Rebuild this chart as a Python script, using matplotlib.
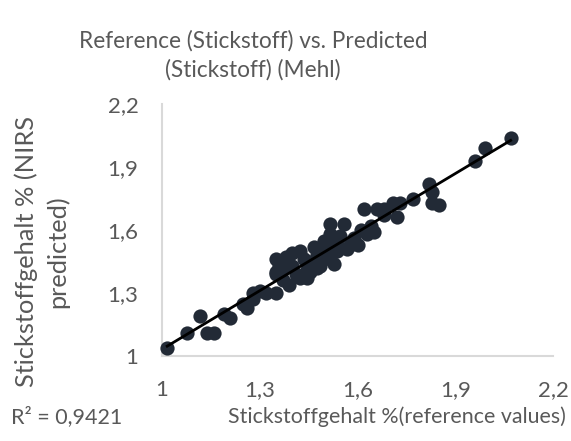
import matplotlib
matplotlib.use("Agg")
import matplotlib.pyplot as plt
from matplotlib.ticker import FuncFormatter, FixedLocator
import numpy as np

# reference N content (%) vs NIRS predicted N content (%)
reference = [
    1.016, 1.078, 1.118, 1.139, 1.159, 1.19, 1.21, 1.25, 1.26, 1.28, 1.28, 1.30,
    1.32, 1.35, 1.35, 1.36, 1.35, 1.35, 1.37, 1.38, 1.38, 1.40, 1.40, 1.41,
    1.425, 1.435, 1.445, 1.455, 1.466, 1.476, 1.486, 1.486, 1.496, 1.507, 1.517, 1.517,
    1.517, 1.527, 1.537, 1.537, 1.558, 1.568, 1.578, 1.588, 1.60, 1.61, 1.62, 1.63,
    1.64, 1.65, 1.66, 1.68, 1.68, 1.71, 1.72, 1.73, 1.77, 1.82, 1.83, 1.83,
    1.85, 1.96, 1.99, 2.07, 1.39, 1.445, 1.476, 1.496, 1.547, 1.37, 1.425, 1.455,
]
predicted = [
    1.04, 1.11, 1.19, 1.11, 1.11, 1.20, 1.18, 1.25, 1.23, 1.30, 1.27, 1.31,
    1.30, 1.30, 1.39, 1.43, 1.46, 1.40, 1.36, 1.43, 1.47, 1.49, 1.43, 1.39,
    1.37, 1.46, 1.41, 1.45, 1.52, 1.42, 1.43, 1.49, 1.46, 1.53, 1.63, 1.58,
    1.47, 1.44, 1.50, 1.55, 1.63, 1.51, 1.53, 1.56, 1.53, 1.60, 1.70, 1.58,
    1.62, 1.59, 1.70, 1.67, 1.70, 1.73, 1.66, 1.73, 1.75, 1.82, 1.78, 1.73,
    1.72, 1.93, 1.99, 2.04, 1.34, 1.37, 1.48, 1.55, 1.57, 1.42, 1.50, 1.40,
]
r2_text = "R² = 0,9421"

ticks = [1.0, 1.3, 1.6, 1.9, 2.2]
grey = "#595959"
dot = "#222a36"

plt.rcParams["font.family"] = ["Lato", "DejaVu Sans"]

fig = plt.figure(figsize=(5.71, 4.41), dpi=100)
ax = fig.add_axes([0.2837, 0.1927, 0.6848, 0.5714])

x = np.array(reference)
y = np.array(predicted)
ax.scatter(x, y, s=105, color=dot, zorder=3, linewidths=0, clip_on=False)

# linear trend line across the data range
k, d = np.polyfit(x, y, 1)
xs = np.array([x.min(), x.max()])
ax.plot(xs, k * xs + d, color="black", lw=2, zorder=4)

ax.set_xlim(1.0, 2.2)
ax.set_ylim(1.0, 2.2)
ax.xaxis.set_major_locator(FixedLocator(ticks))
ax.yaxis.set_major_locator(FixedLocator(ticks))
fmt = FuncFormatter(lambda v, p: f"{v:g}".replace(".", ","))
ax.xaxis.set_major_formatter(fmt)
ax.yaxis.set_major_formatter(fmt)
ax.tick_params(length=0, labelsize=16, colors=grey)
ax.tick_params(axis="x", pad=17)
ax.tick_params(axis="y", pad=17)

for side in ("top", "right"):
    ax.spines[side].set_visible(False)
for side in ("left", "bottom"):
    ax.spines[side].set_color("#d9d9d9")
    ax.spines[side].set_linewidth(1.5)

fig.text(0.443, 0.875, "Reference (Stickstoff) vs. Predicted\n(Stickstoff) (Mehl)",
         ha="center", va="center", fontsize=16.3, color=grey, linespacing=1.45)
fig.text(0.991, 0.055, "Stickstoffgehalt %(reference values)", ha="right",
         va="center", fontsize=15.4, color=grey)
fig.text(0.019, 0.055, r2_text, ha="left", va="center", fontsize=15.5, color=grey)
fig.text(0.073, 0.43, "Stickstoffgehalt % (NIRS\npredicted)", ha="center",
         va="center", rotation=90, fontsize=18.3, color=grey, linespacing=1.4)

fig.savefig("out.png", dpi=100)
